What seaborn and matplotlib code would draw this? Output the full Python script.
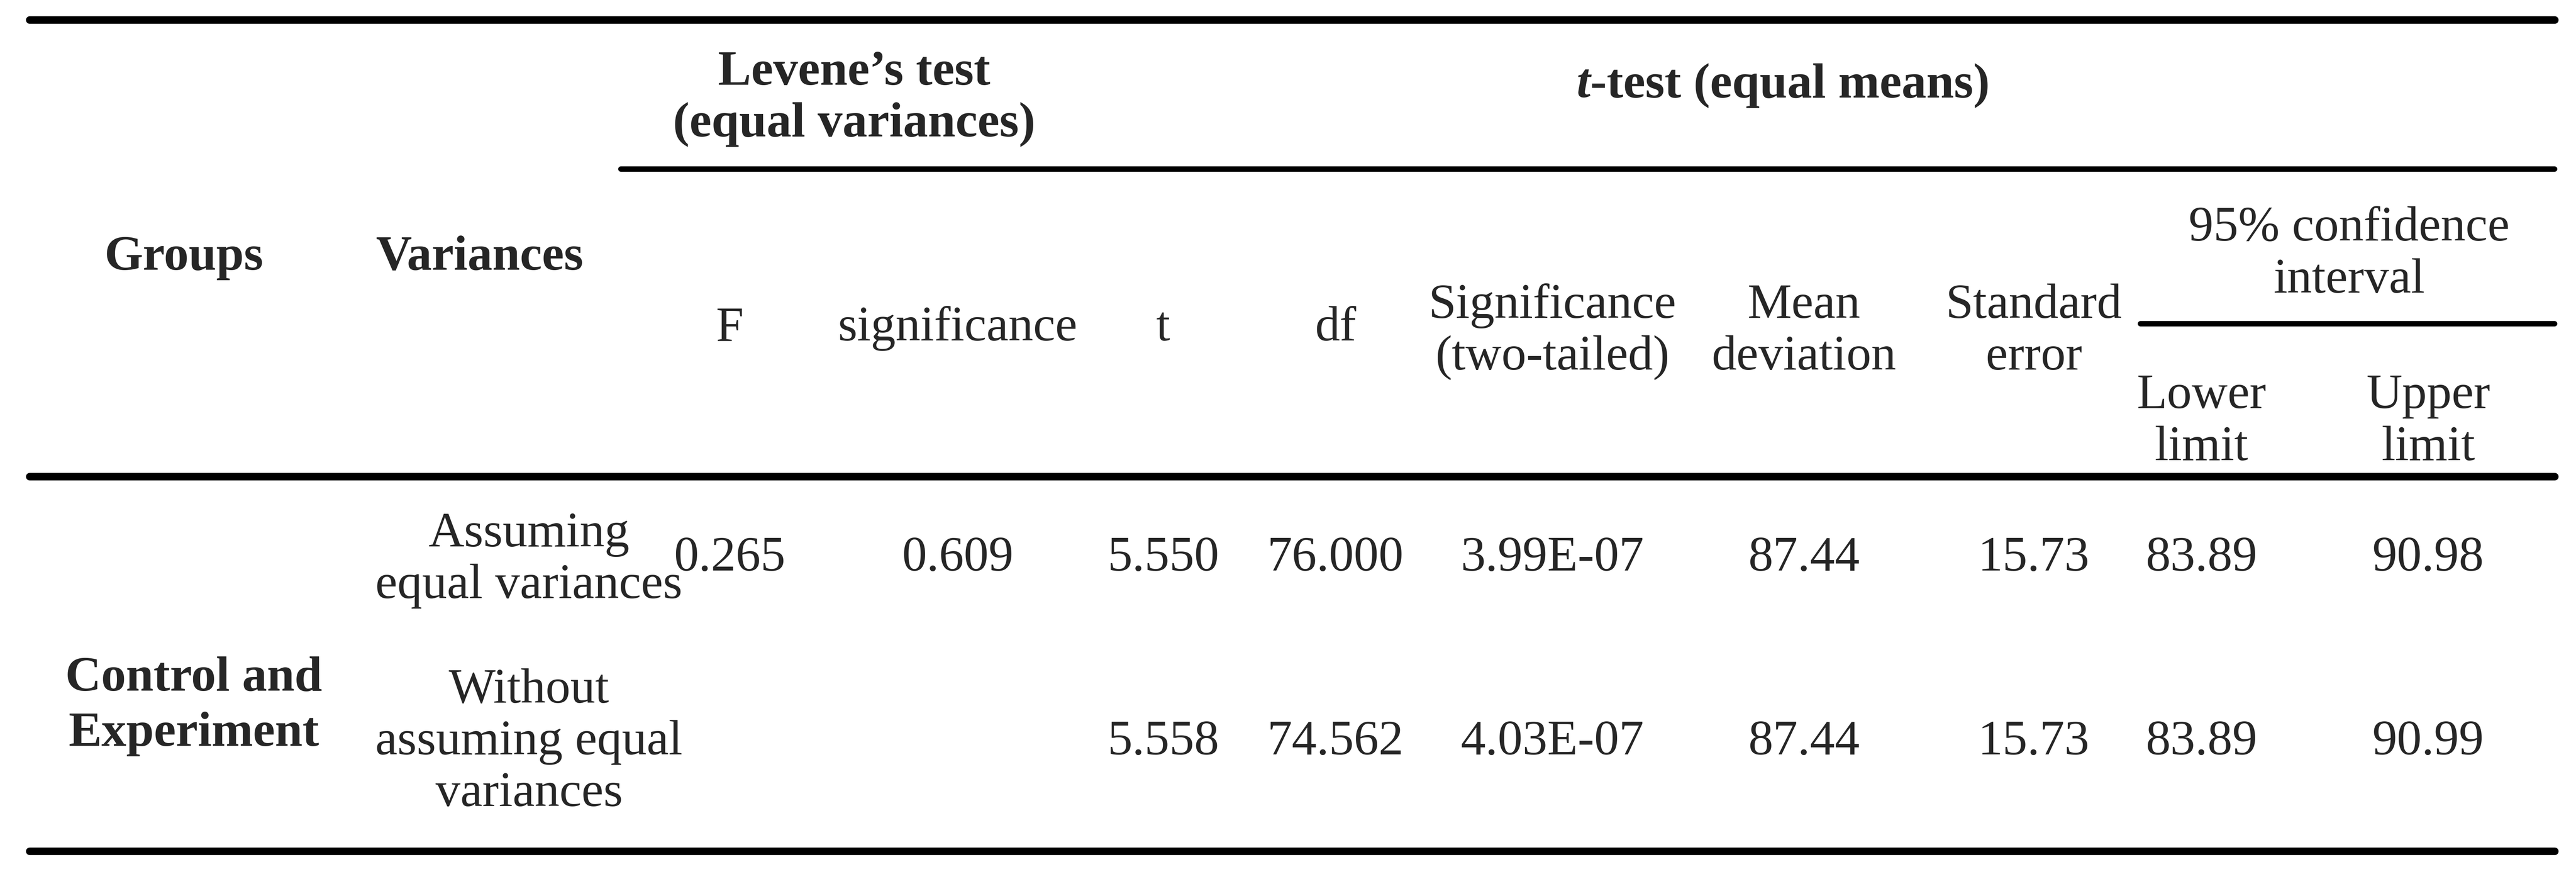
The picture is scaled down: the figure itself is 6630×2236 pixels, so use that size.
import matplotlib
matplotlib.use("Agg")
import matplotlib.pyplot as plt
import seaborn as sns

sns.set_theme(style="white")
plt.rcParams["font.family"] = ["Liberation Serif", "DejaVu Serif"]

# table content
col_heads = ["F", "significance", "t", "df", "Significance\n(two-tailed)",
             "Mean\ndeviation", "Standard\nerror", "Lower\nlimit", "Upper\nlimit"]
row_labels = ["Assuming\nequal variances", "Without\nassuming equal\nvariances"]
row1 = ["0.265", "0.609", "5.550", "76.000", "3.99E-07", "87.44", "15.73", "83.89", "90.98"]
row2 = ["", "", "5.558", "74.562", "4.03E-07", "87.44", "15.73", "83.89", "90.99"]
group = "Control and\nExperiment"

# layout (reference pixel grid 1568 x 529)
col_x = [444, 583, 708, 813, 945, 1098, 1238, 1340, 1478]
head_y = [200, 200, 200, 200, 202, 202, 202, 257, 257]

fig = plt.figure(figsize=(66.3, 22.36), dpi=100)
ax = fig.add_axes([0, 0, 1, 1])
ax.set_xlim(0, 1568)
ax.set_ylim(529, 0)
ax.axis("off")

fs = 92
ls = 1.2
lw_thick = 14
lw_thin = 10

ax.plot([18, 1555], [12, 12], color="black", lw=lw_thick)
ax.plot([378, 1555], [103, 103], color="black", lw=lw_thin)
ax.plot([1303, 1555], [197, 197], color="black", lw=lw_thin)
ax.plot([18, 1555], [290, 290], color="black", lw=lw_thick)
ax.plot([18, 1555], [518, 518], color="black", lw=lw_thick)

ax.text(520, 60, "Levene\u2019s test\n(equal variances)", ha="center", va="center",
        fontsize=fs, fontweight="bold", linespacing=ls)
ax.text(968, 52, "t", ha="right", va="center", fontsize=fs, fontweight="bold", fontstyle="italic")
ax.text(968, 52, "-test (equal means)", ha="left", va="center", fontsize=fs, fontweight="bold")
ax.text(112, 157, "Groups", ha="center", va="center", fontsize=fs, fontweight="bold")
ax.text(292, 157, "Variances", ha="center", va="center", fontsize=fs, fontweight="bold")
ax.text(1430, 155, "95% confidence\ninterval", ha="center", va="center", fontsize=fs, linespacing=ls)

for x, y, s in zip(col_x, head_y, col_heads):
    ax.text(x, y, s, ha="center", va="center", fontsize=fs, linespacing=ls)

ax.text(322, 341, row_labels[0], ha="center", va="center", fontsize=fs, linespacing=ls)
ax.text(322, 452, row_labels[1], ha="center", va="center", fontsize=fs, linespacing=ls)
ax.text(118, 430, group, ha="center", va="center", fontsize=fs, fontweight="bold", linespacing=1.3)

for x, a, b in zip(col_x, row1, row2):
    ax.text(x, 340, a, ha="center", va="center", fontsize=fs)
    ax.text(x, 452, b, ha="center", va="center", fontsize=fs)

fig.savefig("out.png", dpi=100)
